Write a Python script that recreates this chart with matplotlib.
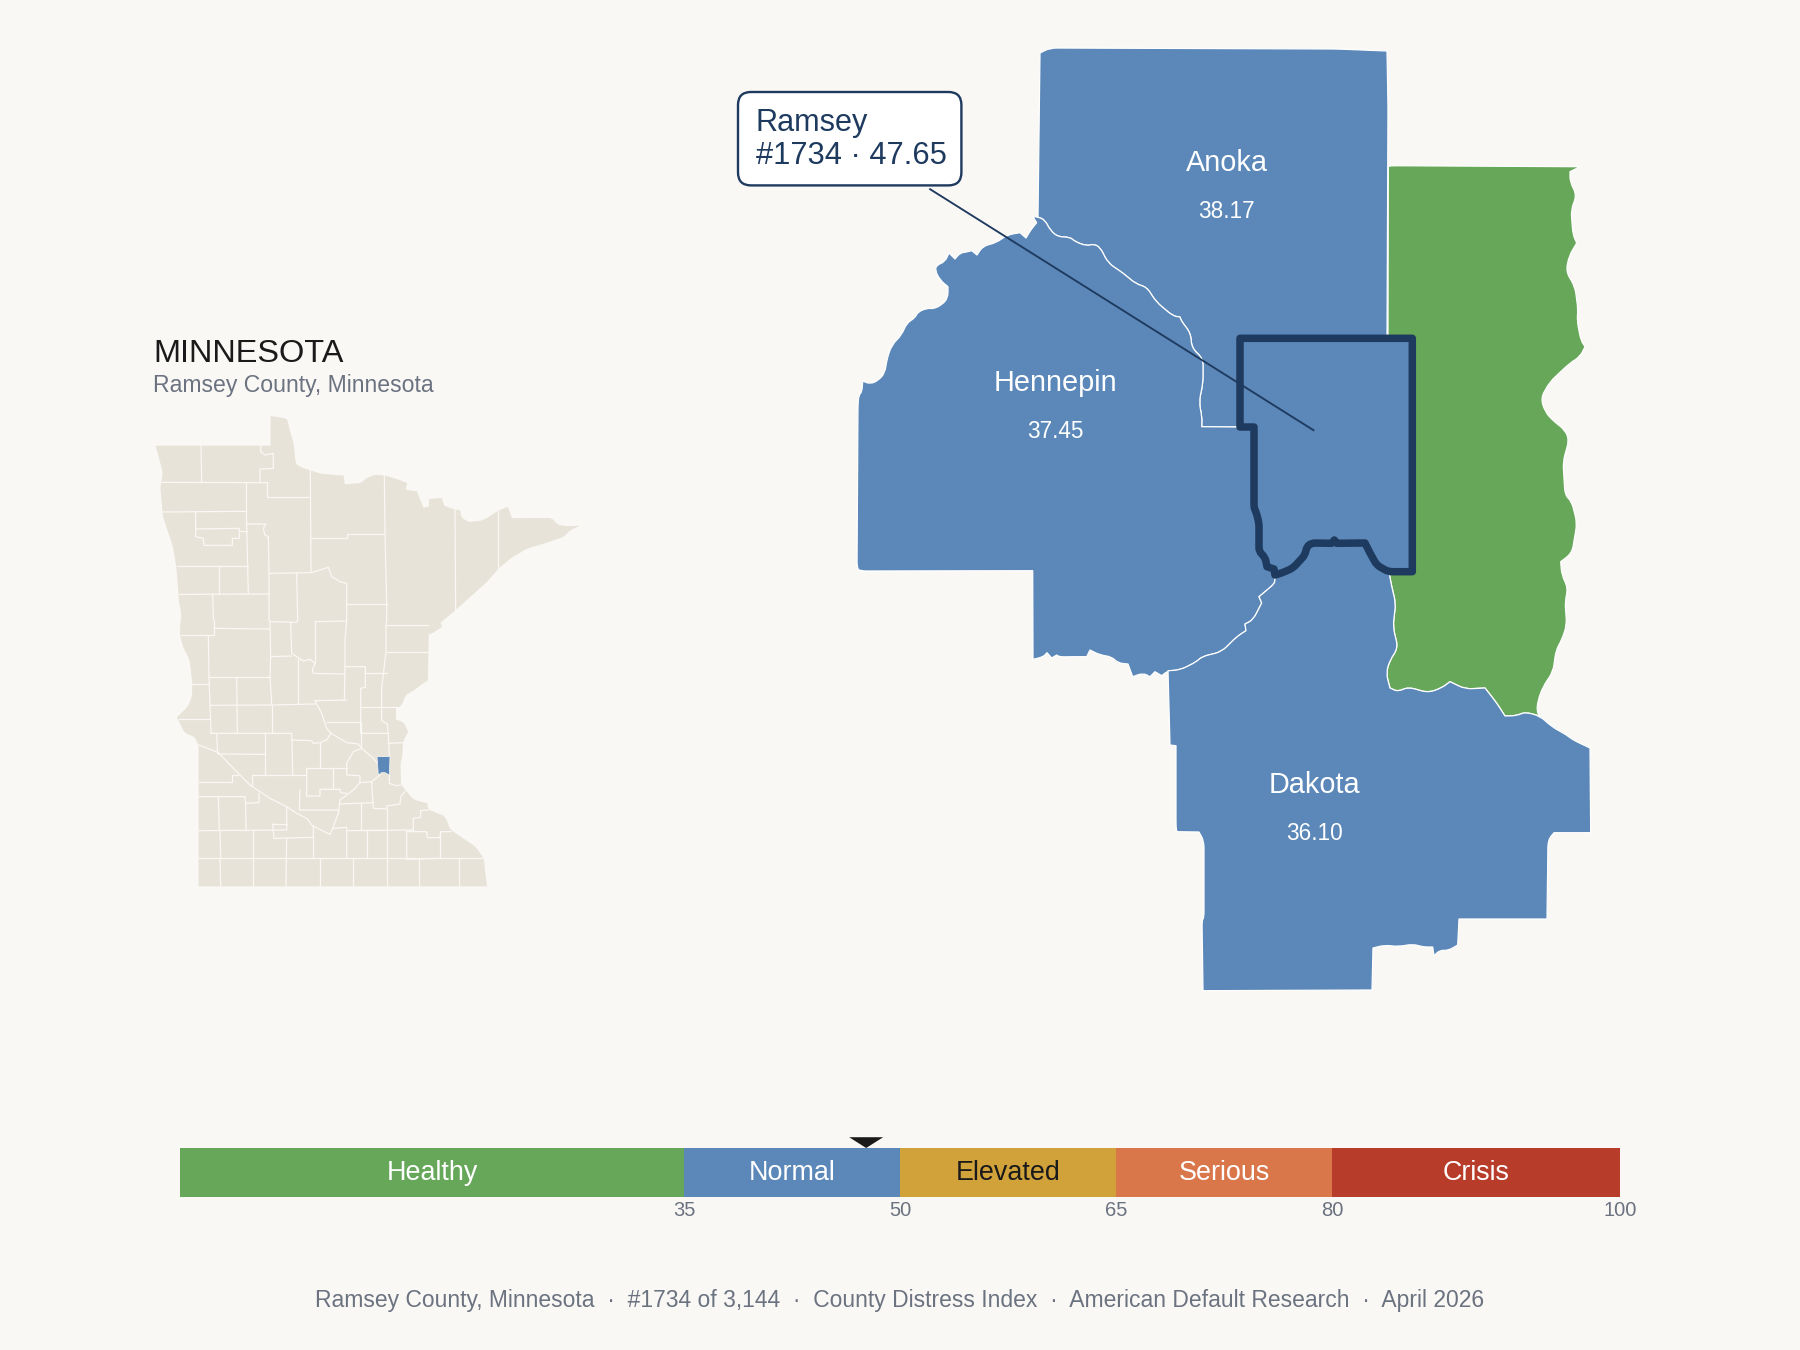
import math
import matplotlib
matplotlib.use('Agg')
import matplotlib.pyplot as plt
from matplotlib.path import Path
from matplotlib.patches import FancyBboxPatch, PathPatch, Polygon

plt.rcParams['font.family'] = ['Liberation Sans', 'DejaVu Sans']

BG = '#FAF8F5'
BLUE = '#5B88B8'
GREEN = '#67A75A'
BEIGE = '#E8E3D8'
NAVY = '#1E3A5F'
SLATE = '#6B7280'
INK = '#1A1A1A'

# distress bands
band_names = ['Healthy', 'Normal', 'Elevated', 'Serious', 'Crisis']
band_edges = [0, 35, 50, 65, 80, 100]
band_colors = [GREEN, BLUE, '#D1A23A', '#D9764A', '#B83C2A']
band_text = ['white', 'white', INK, 'white', 'white']
tick_values = [35, 50, 65, 80, 100]
ramsey_score = 47.65

# county labels: name, value, x, name baseline, value baseline
label_names = ['Anoka', 'Hennepin', 'Dakota']
label_values = ['38.17', '37.45', '36.10']
label_x = [1226.7, 1055, 1314.3]
label_y = [171, 390.7, 792.7]
value_y = [217.7, 437.7, 840]

anoka_hennepin_river = [(1038, 217), (1045, 220), (1050, 230), (1058, 237), (1070, 237), (1075, 241.7),
                        (1087, 246), (1093, 244), (1100, 247), (1108, 263), (1123, 273), (1136, 284),
                        (1146.7, 287), (1156, 301.7), (1173, 316), (1180, 317), (1181.7, 321.7),
                        (1190.7, 333), (1191.7, 348), (1203, 358.3)]
anoka_hennepin_south = [(1203, 383), (1199, 402), (1202, 417), (1201.7, 426.7), (1240, 427)]
anoka_rest = [(1387, 340), (1388, 107), (1387, 51), (1337, 49), (1050, 48), (1040, 53)]

ramsey_west = [(1240, 427), (1254, 427), (1254, 508), (1256, 511.7), (1259, 523), (1259, 551.7),
               (1265, 557), (1267, 566.7), (1274, 569), (1275, 575)]
ramsey_south = [(1275, 575), (1281.7, 573), (1293, 568), (1305, 555), (1306.7, 546.7), (1311.7, 543),
                (1331.7, 543.3), (1334.3, 540), (1336.7, 543.3), (1365, 543), (1370, 553),
                (1376.7, 565), (1388.3, 571.7), (1412.3, 571.7)]
ramsey_rest = [(1412.3, 338.3), (1240, 338.3)]

hennepin_dakota_river = [(1275, 581.7), (1273, 585), (1259, 596.7), (1261.7, 603), (1253, 620), (1245, 624),
                         (1246, 630.7), (1236.7, 636.7), (1221.7, 651.7), (1201.7, 656.7), (1196.7, 661.7),
                         (1180, 670), (1168, 670.7)]
hennepin_rest = [(1161.7, 675.7), (1155, 671.7), (1150, 676.7), (1143, 673), (1132.7, 676.7), (1128, 664),
                 (1118, 663), (1111.7, 656.7), (1100, 655), (1090, 650), (1086.7, 656.7), (1070, 656.7),
                 (1060, 657), (1056.7, 655), (1051.7, 658), (1047, 652.7), (1043, 657), (1033, 659.3),
                 (1032.7, 570.7), (860, 571), (857, 568), (858, 403), (859, 395), (862, 391.7), (862.7, 381),
                 (870, 384), (878, 380.7), (885, 373), (886.7, 360), (891.7, 345), (901.7, 335), (906.7, 323),
                 (915, 318), (918, 311.7), (928, 308), (933, 309), (941.7, 305), (948, 298), (948, 286.7),
                 (940, 280), (935, 270), (937, 265), (945, 261.7), (949, 253), (955, 259), (960, 253),
                 (966.7, 252), (971.7, 250.7), (977, 255), (983, 246), (996.7, 242.7), (1006.7, 235),
                 (1020, 232.7), (1026, 238), (1030.7, 230), (1036.7, 222.7), (1033, 216.7)]

washington_east = [(1390, 165.7), (1580, 166.7), (1570, 171.7), (1570, 181.7), (1576.7, 195), (1571, 210),
                   (1573, 235), (1576.7, 243), (1569, 256), (1566, 271.7), (1575, 286.7), (1578, 310),
                   (1577, 320), (1580.7, 340), (1585, 346.7), (1580, 356.7), (1570, 363), (1550, 381.7),
                   (1540.7, 398), (1545, 411.7), (1553, 420.7), (1565, 430), (1569, 440), (1563, 461.7),
                   (1565, 495), (1571.7, 501.7), (1577, 523), (1572, 553), (1560.7, 561.7), (1561.7, 575),
                   (1568, 588), (1565, 601.7), (1566.7, 625), (1561.7, 640), (1556, 650), (1553, 671.7),
                   (1543, 686.7), (1538, 700), (1536.7, 711.7), (1540, 716)]
washington_dakota_river = [(1525, 712), (1516.7, 715.7), (1505, 716), (1496.7, 703), (1485, 688), (1465, 689),
                           (1450, 681.7), (1441.7, 688), (1428, 692.7), (1408, 687), (1398, 691.7), (1390, 688),
                           (1386, 673), (1390, 660), (1398, 648), (1393, 626.7), (1395.7, 603), (1391.7, 586.7),
                           (1389, 572)]
washington_rest = [(1412.3, 572), (1412.3, 338), (1388, 338), (1388.3, 166.7)]

dakota_rest = [(1551.7, 726.7), (1566.7, 735), (1573, 740), (1590, 748), (1590.7, 832.7), (1554, 832.7),
               (1548, 840), (1547, 919), (1459, 919), (1457.7, 945), (1448, 950.7), (1440, 950), (1434, 955.7),
               (1432.7, 947), (1423, 947), (1413, 944), (1398, 946.7), (1385, 945), (1373, 948), (1372, 990),
               (1203, 990.7), (1202, 920), (1204, 918), (1204, 841), (1199, 832), (1177, 831.7), (1176, 828),
               (1176, 745.7), (1170, 745)]

state_north_east = [(78, 378), (423, 378), (423, 290), (445, 292), (470, 298), (478, 330), (490, 370), (496, 432),
                    (510, 442), (541, 452), (570, 462), (640, 468), (643, 494), (695, 490), (705, 478), (735, 465),
                    (763, 467), (800, 478), (830, 490), (826, 510), (860, 515), (880, 565), (898, 560), (898, 538),
                    (935, 535), (942, 558), (975, 570), (990, 572), (992, 592), (1015, 608), (1060, 602), (1105, 573),
                    (1133, 562), (1145, 596), (1200, 595), (1265, 595), (1282, 615), (1310, 620), (1345, 618),
                    (1320, 630), (1300, 650), (1240, 670), (1190, 685), (1140, 715), (1105, 745), (1070, 785),
                    (1020, 830)]
state_south = [(975, 30), (930, 68), (935, 80), (905, 100), (895, 100), (893, 240), (870, 255), (855, 268), (825, 285),
               (815, 315), (797, 325), (797, 360), (820, 367), (833, 395), (818, 425), (815, 475), (810, 490), (812, 555),
               (825, 570), (850, 600), (890, 610), (895, 630), (945, 650), (960, 690), (990, 710), (1035, 740), (1060, 775),
               (1065, 820), (1070, 858), (207, 858), (207, 435), (195, 410), (165, 398), (142, 352), (175, 320), (187, 290),
               (188, 250), (180, 180), (160, 140), (150, 100), (155, 40), (147, 0)]
state_north_west = [(147, 825), (140, 740), (130, 680), (100, 590), (92, 500), (100, 460), (90, 420)]

lines_north = [
    [(213, 378), (215, 487)],
    [(92, 487), (412, 488)],
    [(390, 488), (390, 447), (430, 445), (430, 400), (405, 405), (392, 395), (392, 378)],
    [(412, 488), (412, 530), (541, 530)],
    [(541, 450), (543, 755)],
    [(347, 488), (347, 615)],
    [(95, 576), (347, 574)],
    [(197, 576), (197, 650), (220, 655), (222, 676), (307, 676), (307, 655), (328, 655), (328, 625), (200, 627)],
    [(330, 634), (350, 634)],
    [(350, 612), (408, 612), (400, 625), (405, 645), (415, 650), (417, 760), (417, 900)],
    [(350, 612), (352, 700), (355, 820)],
    [(140, 738), (355, 738)],
    [(268, 738), (268, 822)],
    [(147, 823), (417, 822)],
    [(248, 823), (250, 900)],
    [(417, 760), (545, 758), (595, 742), (605, 770), (630, 785), (650, 790), (650, 900)],
    [(500, 760), (503, 900)],
    [(543, 655), (650, 655), (650, 643), (763, 643)],
    [(763, 467), (765, 640), (770, 850), (770, 900)],
    [(650, 851), (770, 851)],
    [(975, 570), (977, 870)],
    [(1105, 573), (1105, 745)],
]
lines_south = [
    [(252, 60), (252, 105), (152, 105)],
    [(252, 85), (418, 87)],
    [(418, 60), (420, 65), (500, 67), (503, 60)],
    [(420, 65), (422, 170), (420, 230), (425, 312)],
    [(482, 67), (485, 160), (520, 183), (540, 178), (555, 190), (547, 210), (550, 220), (645, 222)],
    [(555, 65), (648, 63)],
    [(555, 65), (555, 190)],
    [(650, 60), (645, 120), (645, 200), (643, 300)],
    [(770, 60), (768, 75), (768, 155), (755, 265), (755, 322)],
    [(768, 75), (893, 75)],
    [(770, 157), (893, 157)],
    [(235, 107), (237, 232), (240, 315), (243, 400)],
    [(237, 232), (420, 232)],
    [(187, 252), (237, 252)],
    [(320, 232), (322, 400)],
    [(240, 316), (425, 315), (555, 312)],
    [(422, 170), (485, 168)],
    [(505, 178), (505, 312)],
    [(425, 315), (425, 400)],
    [(243, 400), (485, 400), (485, 420), (545, 422), (550, 430), (570, 428), (590, 420), (603, 400)],
    [(147, 358), (238, 358)],
    [(260, 402), (263, 460)],
    [(207, 435), (265, 458), (320, 515), (360, 555), (420, 595), (470, 620), (500, 640), (530, 655), (548, 678),
     (600, 703), (610, 680), (625, 640), (630, 600), (670, 570), (690, 548), (725, 545), (750, 525)],
    [(555, 302), (650, 300)],
    [(555, 302), (575, 340), (590, 385), (603, 400), (650, 428), (685, 432), (695, 445)],
    [(590, 365), (692, 365), (692, 440)],
    [(645, 200), (706, 200), (706, 262), (692, 265), (692, 400)],
    [(706, 220), (770, 220)],
    [(692, 322), (800, 322)],
    [(692, 400), (775, 400), (778, 470)],
    [(755, 322), (755, 362), (772, 372), (775, 400)],
    [(775, 430), (818, 428)],
    [(695, 445), (730, 475), (742, 490)],
    [(695, 445), (670, 455), (650, 490), (650, 525), (690, 527), (690, 548)],
    [(570, 428), (570, 505)],
    [(486, 420), (488, 525)],
    [(405, 400), (405, 525)],
    [(265, 462), (405, 463)],
    [(365, 525), (528, 525)],
    [(528, 505), (650, 505)],
    [(530, 505), (530, 588), (570, 588), (570, 568), (630, 568), (632, 578), (650, 580)],
    [(610, 505), (610, 568)],
    [(365, 525), (365, 555)],
    [(207, 547), (305, 547), (305, 525), (325, 525)],
    [(207, 590), (345, 590), (347, 610), (387, 608), (387, 580)],
    [(265, 590), (268, 692)],
    [(347, 610), (348, 692)],
    [(207, 692), (470, 690), (470, 622)],
    [(270, 692), (272, 775)],
    [(370, 692), (370, 858)],
    [(428, 672), (470, 672)],
    [(428, 672), (432, 715), (550, 712), (550, 678)],
    [(470, 715), (468, 858)],
    [(550, 712), (550, 775)],
    [(510, 570), (508, 630), (625, 630)],
    [(610, 685), (650, 682), (650, 775)],
    [(632, 612), (730, 608)],
    [(725, 548), (730, 625), (770, 627), (770, 618), (810, 612), (812, 590), (825, 575)],
    [(692, 610), (692, 690), (772, 690), (772, 627)],
    [(650, 692), (850, 690)],
    [(710, 692), (710, 775)],
    [(770, 690), (770, 858)],
    [(830, 695), (830, 778), (930, 775)],
    [(850, 692), (850, 655), (872, 652), (872, 632), (895, 630)],
    [(830, 695), (890, 695), (892, 713), (930, 713), (932, 695), (963, 695)],
    [(930, 695), (930, 775)],
    [(207, 775), (1055, 775)],
    [(270, 775), (272, 858)],
    [(571, 778), (571, 858)],
    [(670, 778), (670, 858)],
    [(868, 778), (868, 858)],
    [(988, 778), (988, 858)],
    [(778, 525), (778, 550), (800, 557), (812, 555)],
]
ramsey_inset = [(741, 470), (780, 470), (778, 525), (765, 518), (755, 518), (745, 525)]
SOUTH_SHIFT = 840


def toward(a, b, dist):
    # point on a-b at dist from a, at most half way
    d = math.dist(a, b)
    t = min(dist / d, 0.5)
    return (a[0] + (b[0] - a[0]) * t, a[1] + (b[1] - a[1]) * t)


def rounded_outline(pts, radius, max_turn=50):
    # closed path through the traced points, gentle bends rounded and real corners kept
    pts = [p for i, p in enumerate(pts) if p != pts[i - 1]]
    n = len(pts)

    def turn(i):
        a, b, c = pts[i - 1], pts[i], pts[(i + 1) % n]
        ang = math.atan2(c[1] - b[1], c[0] - b[0]) - math.atan2(b[1] - a[1], b[0] - a[0])
        return abs((math.degrees(ang) + 180) % 360 - 180)

    start = max(range(n), key=turn)
    pts = pts[start:] + pts[:start]
    verts, codes = [pts[0]], [Path.MOVETO]
    for i in range(1, n):
        p, prev, nxt = pts[i], pts[i - 1], pts[(i + 1) % n]
        if turn(i) > max_turn:
            verts.append(p)
            codes.append(Path.LINETO)
        else:
            verts += [toward(p, prev, radius), p, toward(p, nxt, radius)]
            codes += [Path.LINETO, Path.CURVE3, Path.CURVE3]
    verts.append(pts[0])
    codes.append(Path.CLOSEPOLY)
    return Path(verts, codes)


fig = plt.figure(figsize=(18, 13.5), dpi=100, facecolor=BG)

# metro panel and page texts share one pixel axes
ax = fig.add_axes([0, 0, 1, 1])
ax.set_xlim(0, 1800)
ax.set_ylim(1350, 0)
ax.axis('off')

washington = washington_east + washington_dakota_river + washington_rest
anoka = anoka_hennepin_river + anoka_hennepin_south + anoka_rest
hennepin = anoka_hennepin_river + anoka_hennepin_south + ramsey_west + hennepin_dakota_river + hennepin_rest
dakota = hennepin_dakota_river[::-1] + ramsey_south[:-1] + washington_dakota_river[::-1] + \
    washington_east[-1:] + dakota_rest
ramsey = ramsey_west + ramsey_south + ramsey_rest

for pts, color in [(washington, GREEN), (anoka, BLUE), (hennepin, BLUE), (dakota, BLUE)]:
    ax.add_patch(PathPatch(rounded_outline(pts, 7), facecolor=color, edgecolor='white', linewidth=0.9,
                           joinstyle='round'))

ax.add_patch(PathPatch(rounded_outline(ramsey, 4), facecolor=BLUE, edgecolor=NAVY, linewidth=5.4, joinstyle='round'))

for name, val, x, y1, y2 in zip(label_names, label_values, label_x, label_y, value_y):
    ax.text(x, y1, name, color='white', fontsize=20.8, ha='center', va='baseline')
    ax.text(x, y2, val, color='white', fontsize=16.3, ha='center', va='baseline')

# callout
ax.plot([929.3, 1314.3], [188.7, 430.7], color=NAVY, lw=1.35, solid_capstyle='butt')
ax.add_patch(FancyBboxPatch((738, 92), 223.4, 93.4, boxstyle='round,pad=0,rounding_size=13',
                            facecolor='white', edgecolor=NAVY, linewidth=1.7, zorder=5))
ax.text(755.5, 130.7, 'Ramsey', color=NAVY, fontsize=22.1, va='baseline', zorder=6)
ax.text(755.5, 164, '#1734 · 47.65', color=NAVY, fontsize=22.2, va='baseline', zorder=6)

# state heading
ax.text(153.8, 362.3, 'MINNESOTA', color=INK, fontsize=23.4, va='baseline')
ax.text(152.8, 391.7, 'Ramsey County, Minnesota', color=SLATE, fontsize=16.55, va='baseline')

ax.text(900, 1307, 'Ramsey County, Minnesota  ·  #1734 of 3,144  ·  County Distress Index  ·  '
        'American Default Research  ·  April 2026', color=SLATE, fontsize=16.5, ha='center', va='baseline')

# state inset
ax_state = fig.add_axes([130 / 1800, 1 - 900 / 1350, 480 / 1800, 580 / 1350])
ax_state.set_xlim(0, 1440)
ax_state.set_ylim(1740, 0)
ax_state.axis('off')
outline = state_north_east + [(x, y + SOUTH_SHIFT) for x, y in state_south] + state_north_west
ax_state.add_patch(PathPatch(rounded_outline(outline, 10), facecolor=BEIGE, edgecolor=BEIGE, linewidth=0.5))
for seg in lines_north:
    ax_state.plot([p[0] for p in seg], [p[1] for p in seg], color=BG, lw=0.9)
for seg in lines_south:
    ax_state.plot([p[0] for p in seg], [p[1] + SOUTH_SHIFT for p in seg], color=BG, lw=0.9)
ax_state.add_patch(Polygon([(x, y + SOUTH_SHIFT) for x, y in ramsey_inset], closed=True,
                           facecolor=BLUE, edgecolor=BG, linewidth=0.5, zorder=4))

# distress scale
ax_bar = fig.add_axes([180 / 1800, 1 - 1197 / 1350, 1440 / 1800, 49 / 1350])
ax_bar.set_xlim(0, 100)
ax_bar.set_ylim(0, 1)
ax_bar.axis('off')
for i, name in enumerate(band_names):
    lo, hi = band_edges[i], band_edges[i + 1]
    ax_bar.barh(0.5, hi - lo, left=lo, height=1, color=band_colors[i], linewidth=0)
    ax_bar.text((lo + hi) / 2, 0.34, name, color=band_text[i], fontsize=19.4, ha='center', va='baseline')
for v in tick_values:
    ax_bar.text(v, -0.39, str(v), color=SLATE, fontsize=14.5, ha='center', va='baseline', clip_on=False)
ax_bar.fill([ramsey_score - 1.18, ramsey_score + 1.18, ramsey_score], [1.22, 1.22, 1.0],
            color=INK, linewidth=0, clip_on=False)

fig.savefig('out.png', dpi=100, facecolor=BG)
